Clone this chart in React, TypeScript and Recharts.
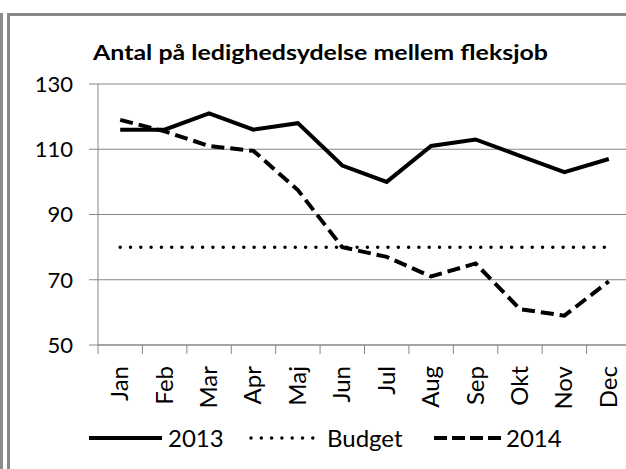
import React from 'react';
import { LineChart, Line, XAxis, YAxis, CartesianGrid } from 'recharts';

// Maanedsnavne og serier aflaest fra figuren
const months = ['Jan', 'Feb', 'Mar', 'Apr', 'Maj', 'Jun', 'Jul', 'Aug', 'Sep', 'Okt', 'Nov', 'Dec'];
const values2013 = [116, 116, 121, 116, 118, 105, 100, 111, 113, 108, 103, 107];
const valuesBudget = [80, 80, 80, 80, 80, 80, 80, 80, 80, 80, 80, 80];
const values2014 = [119, 115.5, 111, 109.5, 97.5, 80, 77, 71, 75, 61, 59, 69.5];
const yTicks = [50, 70, 90, 110, 130];

const FONT = 'Lato, "Open Sans", sans-serif';
const GRID = '#868686';

const data = months.map((m, i) => ({
  x: i + 0.5,
  name: m,
  y2013: values2013[i],
  budget: valuesBudget[i],
  y2014: values2014[i],
}));

const boundTicks = months.map((_, i) => i).concat(months.length);
const labelTicks = months.map((_, i) => i + 0.5);

// lodret maanedstekst, enden ved aksen
const MonthTick = ({ x, y, payload }: any) => {
  const idx = Math.round(payload.value - 0.5);
  if (!months[idx]) return null;
  return (
    <g transform={`translate(${x}, ${y + 12}) rotate(-90)`}>
      <text x={0} y={8} textAnchor="end" fontSize={24} fontFamily={FONT} fill="#000">
        {months[idx]}
      </text>
    </g>
  );
};

const NoLabel = () => <g />;

const legendItems = [
  { label: '2013', x1: 89, x2: 162, tx: 168, dash: undefined, cap: 'butt' },
  { label: 'Budget', x1: 251, x2: 316, tx: 327, dash: '0 10.3', cap: 'round' },
  { label: '2014', x1: 434, x2: 503, tx: 506, dash: '13 5', cap: 'butt' },
];

export default function App() {
  return (
    <div style={{ position: 'fixed', left: 0, top: 0, width: 626, height: 469, background: '#fff', overflow: 'hidden' }}>
      {/* rammer */}
      <div style={{ position: 'absolute', left: 0, top: 13, width: 3, height: 456, background: '#8c8c8c' }} />
      <div style={{ position: 'absolute', left: 7, top: 13, width: 619, height: 456, borderTop: '3px solid #888', borderLeft: '3px solid #888', boxSizing: 'border-box' }} />

      <div style={{ position: 'absolute', left: 0, top: 0 }}>
        <LineChart width={650} height={469} data={data} margin={{ top: 84, right: 19, left: 0, bottom: 23 }}>
          <CartesianGrid xAxisId="b" vertical={false} stroke={GRID} />
          <XAxis
            xAxisId="b"
            dataKey="x"
            type="number"
            domain={[0, 12]}
            ticks={boundTicks}
            tick={<NoLabel />}
            tickSize={9}
            height={1}
            interval={0}
            axisLine={{ stroke: GRID }}
            tickLine={{ stroke: GRID }}
          />
          <XAxis
            xAxisId="m"
            dataKey="x"
            type="number"
            domain={[0, 12]}
            ticks={labelTicks}
            tick={<MonthTick />}
            tickLine={false}
            axisLine={false}
            height={100}
            interval={0}
          />
          <YAxis
            domain={[50, 130]}
            ticks={yTicks}
            width={98}
            tickSize={9}
            tickMargin={16}
            axisLine={{ stroke: GRID }}
            tickLine={{ stroke: GRID }}
            tick={{ fill: '#000', fontSize: 22, fontFamily: FONT }}
            interval={0}
          />
          <Line xAxisId="b" dataKey="budget" stroke="#000" strokeWidth={3.5} strokeDasharray="0 10.3" strokeLinecap="round" dot={false} isAnimationActive={false} />
          <Line xAxisId="b" dataKey="y2014" stroke="#000" strokeWidth={4} strokeDasharray="13 6" dot={false} isAnimationActive={false} />
          <Line xAxisId="b" dataKey="y2013" stroke="#000" strokeWidth={4} dot={false} isAnimationActive={false} />
        </LineChart>
      </div>

      {/* titel og forklaring */}
      <svg width={626} height={469} style={{ position: 'absolute', left: 0, top: 0, pointerEvents: 'none' }}>
        <text x={93} y={60} fontSize={21} fontWeight={700} fontFamily={FONT} fill="#000" textLength={455} lengthAdjust="spacingAndGlyphs">
          Antal på ledighedsydelse mellem fleksjob
        </text>
        {legendItems.map((it) => (
          <g key={it.label}>
            <line x1={it.x1} x2={it.x2} y1={438} y2={438} stroke="#000" strokeWidth={it.cap === 'round' ? 3.5 : 4} strokeDasharray={it.dash} strokeLinecap={it.cap as any} />
            <text x={it.tx} y={446.5} fontSize={24} fontFamily={FONT} fill="#000">{it.label}</text>
          </g>
        ))}
      </svg>
    </div>
  );
}
